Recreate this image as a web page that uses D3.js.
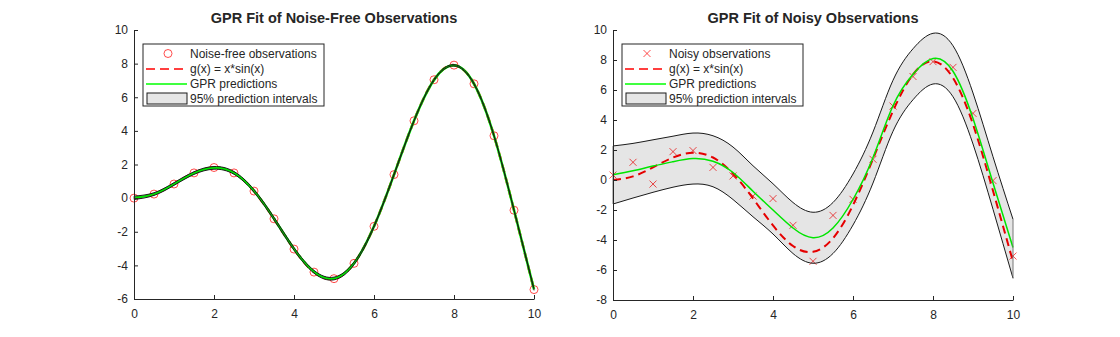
<!DOCTYPE html>
<html>
<head>
<meta charset="utf-8">
<script src="https://cdn.jsdelivr.net/npm/d3@7"></script>
<style>
    body { margin: 0; background: #fff; }
    svg text { font-family: "Liberation Sans", Arial, sans-serif; fill: #262626; }
</style>
</head>
<body>
<div id="chart"></div>
<script>
// grid of x values shared by both panels
var xs = [0, 0.5, 1, 1.5, 2, 2.5, 3, 3.5, 4, 4.5, 5, 5.5, 6, 6.5, 7, 7.5, 8, 8.5, 9, 9.5, 10];

var gTrue = [0, 0.24, 0.84, 1.5, 1.82, 1.5, 0.42, -1.23, -3.03, -4.4, -4.79, -3.88, -1.68, 1.4, 4.6, 7.04, 7.91, 6.8, 3.71, -0.72, -5.44];

// left panel
var obsFree = [0, 0.24, 0.84, 1.5, 1.82, 1.5, 0.42, -1.23, -3.03, -4.4, -4.79, -3.88, -1.68, 1.4, 4.6, 7.04, 7.91, 6.8, 3.71, -0.72, -5.44];
var predFree = [0.02, 0.24, 0.84, 1.49, 1.8, 1.5, 0.43, -1.22, -3.02, -4.38, -4.78, -3.88, -1.68, 1.4, 4.6, 7.03, 7.9, 6.8, 3.71, -0.71, -5.43];
var upFree = [0.12, 0.32, 0.92, 1.57, 1.88, 1.58, 0.51, -1.14, -2.94, -4.3, -4.7, -3.8, -1.63, 1.45, 4.64, 7.07, 7.94, 6.84, 3.75, -0.67, -5.38];
var loFree = [-0.08, 0.16, 0.76, 1.41, 1.72, 1.42, 0.35, -1.3, -3.1, -4.46, -4.86, -3.96, -1.73, 1.35, 4.56, 6.99, 7.86, 6.76, 3.67, -0.75, -5.48];

// right panel
var obsNoisy = [0.33, 1.18, -0.27, 1.89, 1.96, 0.84, 0.27, -1.07, -1.24, -3.02, -5.42, -2.36, -1.29, 1.38, 4.93, 6.9, 7.89, 7.51, 4.44, -0.04, -5.07];
var predNoisy = [0.35, 0.62, 0.93, 1.22, 1.43, 1.25, 0.5, -0.75, -2.0, -3.2, -3.85, -3.2, -1.3, 1.5, 4.95, 7.05, 8.1, 7.25, 4.1, -0.2, -4.5];
var upNoisy = [2.27, 2.44, 2.68, 2.92, 3.13, 2.95, 2.2, 0.95, -0.25, -1.5, -2.15, -1.5, 0.4, 3.2, 6.65, 8.75, 9.78, 8.95, 5.8, 1.55, -2.62];
var loNoisy = [-1.6, -1.2, -0.82, -0.48, -0.27, -0.45, -1.3, -2.45, -3.6, -4.9, -5.55, -4.9, -3.0, -0.2, 3.25, 5.35, 6.4, 5.55, 2.4, -1.95, -6.55];

var xTicks = [0, 2, 4, 6, 8, 10];
var yTicksFree = [-6, -4, -2, 0, 2, 4, 6, 8, 10];
var yTicksNoisy = [-8, -6, -4, -2, 0, 2, 4, 6, 8, 10];

var legendFree = ['Noise-free observations', 'g(x) = x*sin(x)', 'GPR predictions', '95% prediction intervals'];
var legendNoisy = ['Noisy observations', 'g(x) = x*sin(x)', 'GPR predictions', '95% prediction intervals'];

var svg = d3.select('#chart')
    .append('svg')
    .attr('width', 1120)
    .attr('height', 337);

function pairs(ys) {
    return xs.map(function (x, i) { return [x, ys[i]]; });
}

// plain hyphen minus, like the original
var fmt = function (d) { return String(d); };

function drawPanel(p) {
    var x = d3.scaleLinear().domain([0, 10]).range([p.left, p.left + 400]);
    var y = d3.scaleLinear().domain(p.yDomain).range([p.bottom, 30]);

    var line = d3.line()
        .x(function (d) { return x(d[0]); })
        .y(function (d) { return y(d[1]); })
        .curve(d3.curveNatural);

    var g = svg.append('g');

    // observations
    if (p.marker === 'circle') {
        g.selectAll('circle.obs')
            .data(pairs(p.obs))
            .enter().append('circle')
            .attr('cx', function (d) { return x(d[0]); })
            .attr('cy', function (d) { return y(d[1]); })
            .attr('r', 4)
            .attr('fill', 'none')
            .attr('stroke', '#ff0000')
            .attr('stroke-width', 0.7);
    } else {
        g.selectAll('path.obs')
            .data(pairs(p.obs))
            .enter().append('path')
            .attr('d', function (d) {
                var cx = x(d[0]), cy = y(d[1]), s = 3.5;
                return 'M' + (cx - s) + ',' + (cy - s) + 'L' + (cx + s) + ',' + (cy + s) +
                    'M' + (cx - s) + ',' + (cy + s) + 'L' + (cx + s) + ',' + (cy - s);
            })
            .attr('stroke', '#ff0000')
            .attr('stroke-width', 0.7);
    }

    g.append('path')
        .datum(pairs(gTrue))
        .attr('d', line)
        .attr('fill', 'none')
        .attr('stroke', '#ff0000')
        .attr('stroke-width', p.lw)
        .attr('stroke-dasharray', '8,5');

    g.append('path')
        .datum(pairs(p.pred))
        .attr('d', line)
        .attr('fill', 'none')
        .attr('stroke', '#00ff00')
        .attr('stroke-width', p.gw);

    // prediction interval patch
    var area = d3.area()
        .x(function (d) { return x(d[0]); })
        .y0(function (d) { return y(d[1]); })
        .y1(function (d) { return y(d[2]); })
        .curve(d3.curveNatural);
    var band = xs.map(function (v, i) { return [v, p.lo[i], p.up[i]]; });
    g.append('path')
        .datum(band)
        .attr('d', area)
        .attr('fill', 'rgba(0,0,0,0.1)')
        .attr('stroke', 'none');
    g.append('path')
        .datum(pairs(p.up))
        .attr('d', line)
        .attr('fill', 'none')
        .attr('stroke', '#1a1a1a')
        .attr('stroke-width', 1);
    g.append('path')
        .datum(pairs(p.lo))
        .attr('d', line)
        .attr('fill', 'none')
        .attr('stroke', '#1a1a1a')
        .attr('stroke-width', 1);
    g.append('line')
        .attr('x1', x(10)).attr('x2', x(10))
        .attr('y1', y(p.up[20])).attr('y2', y(p.lo[20]))
        .attr('stroke', '#777').attr('stroke-width', 1);
    g.append('line')
        .attr('x1', x(0)).attr('x2', x(0))
        .attr('y1', y(p.up[0])).attr('y2', y(p.lo[0]))
        .attr('stroke', '#777').attr('stroke-width', 1);

    // axes
    var xAxis = svg.append('g')
        .attr('transform', 'translate(0,' + p.bottom + ')')
        .call(d3.axisBottom(x).tickValues(xTicks).tickFormat(fmt).tickSizeInner(-4).tickSizeOuter(0).tickPadding(8));
    var yAxis = svg.append('g')
        .attr('transform', 'translate(' + p.left + ',0)')
        .call(d3.axisLeft(y).tickValues(p.yTicks).tickFormat(fmt).tickSizeInner(-4).tickSizeOuter(0).tickPadding(6));
    [xAxis, yAxis].forEach(function (a) {
        a.selectAll('path, line').attr('stroke', '#262626');
        a.selectAll('text').style('font-size', '12px').attr('fill', '#262626');
    });
    xAxis.selectAll('text').attr('dy', '0.9em');

    // title
    svg.append('text')
        .attr('x', p.left + 200)
        .attr('y', 23)
        .attr('text-anchor', 'middle')
        .style('font-size', '14.5px')
        .style('font-weight', 'bold')
        .text(p.title);

    // legend
    var lx = p.left + 9, ly = 44;
    var leg = svg.append('g');
    leg.append('rect')
        .attr('x', lx).attr('y', ly)
        .attr('width', 181).attr('height', 62)
        .attr('fill', '#fff')
        .attr('stroke', '#262626')
        .attr('stroke-width', 1);
    var rows = [53.5, 69, 84, 99];
    var sx0 = lx + 3, sx1 = lx + 44, mx = lx + 25;
    if (p.marker === 'circle') {
        leg.append('circle').attr('cx', mx).attr('cy', rows[0]).attr('r', 4)
            .attr('fill', 'none').attr('stroke', '#ff0000').attr('stroke-width', 0.7);
    } else {
        leg.append('path')
            .attr('d', 'M' + (mx - 3.5) + ',' + (rows[0] - 3.5) + 'L' + (mx + 3.5) + ',' + (rows[0] + 3.5) +
                'M' + (mx - 3.5) + ',' + (rows[0] + 3.5) + 'L' + (mx + 3.5) + ',' + (rows[0] - 3.5))
            .attr('stroke', '#ff0000').attr('stroke-width', 0.7);
    }
    leg.append('line').attr('x1', sx0).attr('x2', sx1).attr('y1', rows[1]).attr('y2', rows[1])
        .attr('stroke', '#ff0000').attr('stroke-width', 1.5).attr('stroke-dasharray', '9,5');
    leg.append('line').attr('x1', sx0).attr('x2', sx1).attr('y1', rows[2]).attr('y2', rows[2])
        .attr('stroke', '#00ff00').attr('stroke-width', 1.5);
    leg.append('rect').attr('x', sx0 + 1).attr('y', rows[3] - 6).attr('width', 40).attr('height', 11)
        .attr('fill', '#e6e6e6').attr('stroke', '#1a1a1a').attr('stroke-width', 1);
    p.legend.forEach(function (t, i) {
        leg.append('text')
            .attr('x', lx + 47)
            .attr('y', rows[i])
            .attr('dy', '0.35em')
            .style('font-size', '12px')
            .text(t);
    });
}

drawPanel({
    left: 134, bottom: 299, yDomain: [-6, 10], yTicks: yTicksFree,
    obs: obsFree, pred: predFree, up: upFree, lo: loFree,
    marker: 'circle', lw: 2.5, gw: 2.5,
    title: 'GPR Fit of Noise-Free Observations', legend: legendFree
});

drawPanel({
    left: 613, bottom: 300, yDomain: [-8, 10], yTicks: yTicksNoisy,
    obs: obsNoisy, pred: predNoisy, up: upNoisy, lo: loNoisy,
    marker: 'cross', lw: 2, gw: 1.5,
    title: 'GPR Fit of Noisy Observations', legend: legendNoisy
});
</script>
</body>
</html>
